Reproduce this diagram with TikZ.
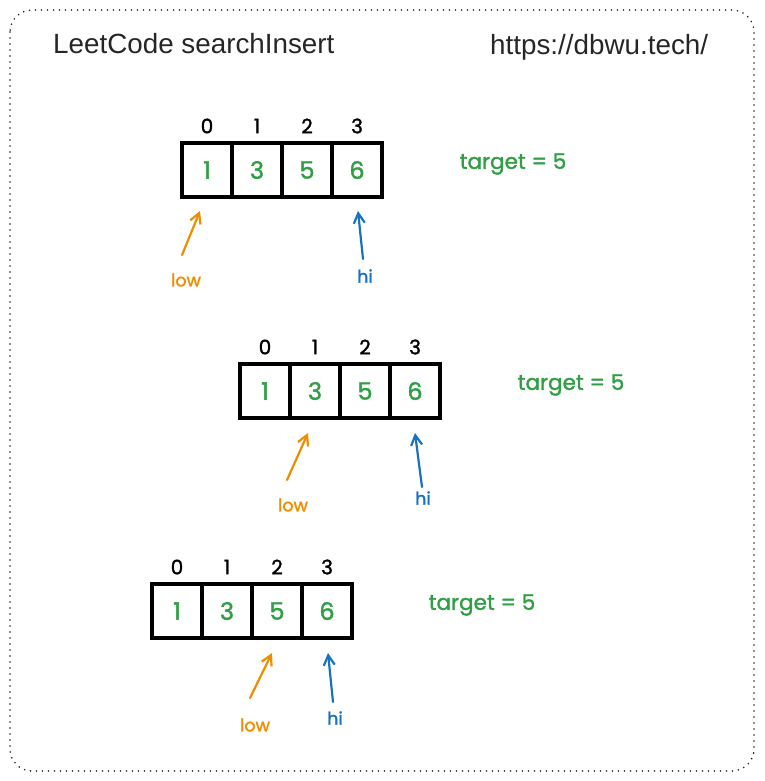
\documentclass[tikz,border=0pt]{standalone}
\usepackage{fontspec}
\setmainfont{Liberation Sans}
\newfontfamily\hand[FakeBold=1.5]{Poppins}
\usetikzlibrary{arrows.meta}
\definecolor{exgreen}{HTML}{2F9E44}
\definecolor{exorange}{HTML}{F08C00}
\definecolor{exblue}{HTML}{1971C2}
\begin{document}
\begin{tikzpicture}[x=1pt,y=-1pt,
  cell/.style={draw=black, line width=3.4pt, minimum width=50pt, minimum height=54pt, inner sep=0pt, text=exgreen, font=\hand\fontsize{24}{24}\selectfont},
  idx/.style={text=black, inner sep=0pt, font=\hand\fontsize{20}{20}\selectfont},
  tgt/.style={text=exgreen, inner sep=0pt, font=\hand\fontsize{21.5}{21.5}\selectfont},
  lowlbl/.style={text=exorange, inner sep=0pt, font=\hand\fontsize{17.5}{17.5}\selectfont},
  hilbl/.style={text=exblue, inner sep=0pt, font=\hand\fontsize{17.5}{17.5}\selectfont},
  lowarr/.style={draw=exorange, line width=2.2pt, line cap=round, -{Straight Barb[length=10pt,width=11pt,line width=2.2pt]}},
  hiarr/.style={draw=exblue, line width=2.2pt, line cap=round, -{Straight Barb[length=10pt,width=11pt,line width=2.2pt]}},
  titlefont/.style={inner sep=0pt, text=black!85, font=\fontsize{27.8}{27.8}\selectfont}
]
\useasboundingbox (0,0) rectangle (764,781);
\draw[line width=1.8pt, dash pattern=on 0pt off 6pt, line cap=round, rounded corners=22pt, black!85] (10,10) rectangle (754,771);
\node[titlefont, anchor=west] (title) at (53,44) {LeetCode searchInsert};
\node[titlefont, anchor=west] (url) at (490,47) {https://dbwu.tech/};

\foreach \a/\lx/\cy in {1/182/170, 2/240/391, 3/152/611} {
  \foreach \i/\v in {0/1, 1/3, 2/5, 3/6} {
    \node[cell] (a\a c\i) at ({\lx+25+50*\i},\cy) {\v};
    \node[idx] (a\a i\i) at ({\lx+25+50*\i},{\cy-44}) {\i};
  }
}

\node[tgt] (t1) at (513,164) {target = 5};
\node[tgt] (t2) at (571,385) {target = 5};
\node[tgt] (t3) at (482,605) {target = 5};

% array 1
\coordinate (l1t) at (182,255); \coordinate (l1h) at (200,211);
\coordinate (h1t) at (363,259); \coordinate (h1h) at (358,211);
\node[lowlbl] (low1) at (186,280) {low};
\node[hilbl] (hi1) at (365,276) {hi};
\draw[lowarr] (l1t) -- (l1h);
\draw[hiarr] (h1t) -- (h1h);
% array 2
\coordinate (l2t) at (287,480); \coordinate (l2h) at (308,433);
\coordinate (h2t) at (422,487); \coordinate (h2h) at (415,433);
\node[lowlbl] (low2) at (293,505) {low};
\node[hilbl] (hi2) at (423,498) {hi};
\draw[lowarr] (l2t) -- (l2h);
\draw[hiarr] (h2t) -- (h2h);
% array 3
\coordinate (l3t) at (250,698); \coordinate (l3h) at (272,653);
\coordinate (h3t) at (333,702); \coordinate (h3h) at (328,653);
\node[lowlbl] (low3) at (255,725) {low};
\node[hilbl] (hi3) at (335,718) {hi};
\draw[lowarr] (l3t) -- (l3h);
\draw[hiarr] (h3t) -- (h3h);
\end{tikzpicture}
\end{document}
